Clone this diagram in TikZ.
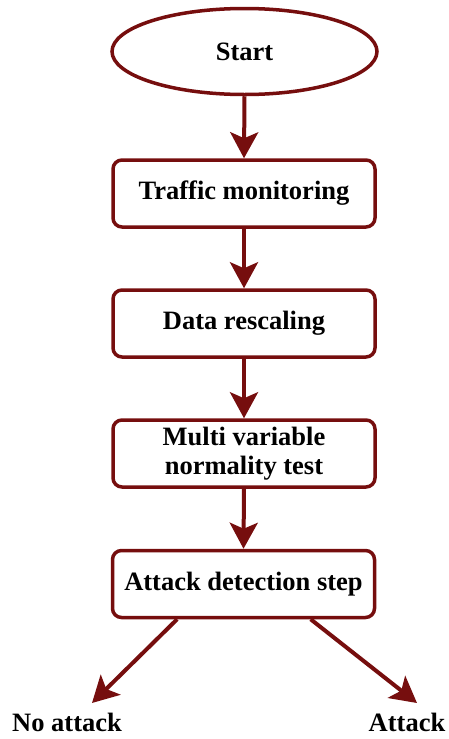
\documentclass[tikz,border=0pt]{standalone}
\usepackage{fontspec}
\setmainfont{Liberation Serif}
\usetikzlibrary{shapes.geometric,arrows.meta,calc}
\definecolor{maroon}{RGB}{118,14,14}
\tikzset{
  every node/.style={font=\bfseries\fontsize{26.5}{28.5}\selectfont, text=black},
  stepbox/.style={draw=maroon, line width=3.5pt, rounded corners=9pt, fill=white,
    minimum width=262pt, minimum height=67pt, align=center, inner sep=0pt},
  startnode/.style={draw=maroon, line width=3.5pt, ellipse, fill=white,
    minimum width=265pt, minimum height=86pt, inner sep=0pt},
  conn/.style={draw=maroon, line width=4pt,
    -{Stealth[length=26pt, width=28pt, inset=6pt]}},
}
\begin{document}
\begin{tikzpicture}[x=1pt, y=-1pt]
\useasboundingbox (0,0) rectangle (448,739);
\node[startnode] (start) at (244.5,51.5) {Start};
\node[stepbox] (traffic) at (244,193.5) {Traffic monitoring};
\node[stepbox] (data) at (244,323.5) {Data rescaling};
\node[stepbox] (multi) at (244,453.5) {Multi variable\\normality test};
\node[stepbox] (det) at (243.5,584) {Attack detection step};
\node (noatk) at (67,722) {No attack};
\node (atk) at (407,722) {Attack};
\coordinate (detL) at ($(det.south west)!0.25!(det.south east)$);
\coordinate (detR) at ($(det.south west)!0.753!(det.south east)$);
\coordinate (tipL) at (92,703);
\coordinate (tipR) at (417,703);
\draw[conn] (start.south) -- (traffic.north);
\draw[conn] (traffic.south) -- (data.north);
\draw[conn] (data.south) -- (multi.north);
\draw[conn] (multi.south) -- (det.north);
\draw[conn] (detL) -- (tipL);
\draw[conn] (detR) -- (tipR);
\end{tikzpicture}
\end{document}
